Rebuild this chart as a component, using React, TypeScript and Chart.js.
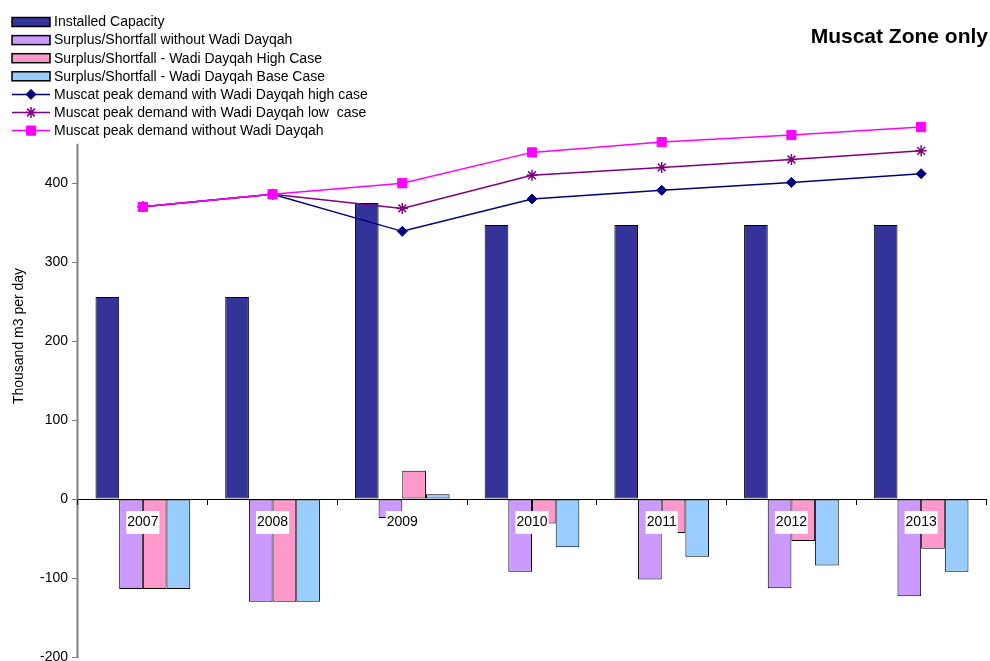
import { useEffect, useRef } from "react";
import { Chart, registerables } from "chart.js";
import { drawPoint } from "chart.js/helpers";

Chart.register(...registerables);

// Years shown along the zero line
const years = ["2007", "2008", "2009", "2010", "2011", "2012", "2013"];

// Bars (thousand m3 per day)
const installedCapacity = [256, 256, 375, 347, 347, 347, 347];
const surplusWithoutWadiDayqah = [-114, -130, -24, -92, -102, -113, -123];
const surplusHighCase = [-114, -130, 36, -31, -43, -53, -63];
const surplusBaseCase = [-114, -130, 6, -61, -73, -84, -92];

// Peak demand lines
const demandHighCase = [370, 386, 339, 380, 391, 401, 412];
const demandLowCase = [370, 386, 368, 410, 420, 430, 441];
const demandWithoutWadiDayqah = [370, 386, 400, 439, 452, 461, 471];

// Value axis: the drawn axis line stops at axisTop, while the plot keeps
// some headroom above it so the demand lines can run past the axis end.
const yTicks = [-200, -100, 0, 100, 200, 300, 400];
const yMin = -200;
const axisTop = 450;
const plotTop = 480;

const chartTitle = "Muscat Zone only";
const yAxisTitle = "Thousand m3 per day";

const FONT = "'Liberation Sans', Arial, sans-serif";

// Vertical legend block, chart title, axis title and the value-axis line
const decorations = {
  id: "decorations",
  beforeDatasetsDraw(chart: any) {
    const ctx: CanvasRenderingContext2D = chart.ctx;
    const y = chart.scales.y;
    const x = chart.chartArea.left;
    ctx.save();
    ctx.strokeStyle = "#808080";
    ctx.lineWidth = 2;
    ctx.beginPath();
    ctx.moveTo(x - 0.5, y.getPixelForValue(axisTop));
    ctx.lineTo(x - 0.5, y.getPixelForValue(yMin) + 1);
    ctx.stroke();
    ctx.restore();
  },
  afterDraw(chart: any) {
    const ctx: CanvasRenderingContext2D = chart.ctx;
    ctx.save();

    // Legend
    const x0 = 12;
    const x1 = 50;
    const textX = 54;
    const rowStart = 22;
    const rowStep = 18.1;
    ctx.font = `14px ${FONT}`;
    ctx.textBaseline = "middle";
    ctx.textAlign = "left";
    chart.data.datasets.forEach((ds: any, i: number) => {
      const y = rowStart + i * rowStep;
      if (ds.type === "bar") {
        ctx.fillStyle = ds.backgroundColor;
        ctx.fillRect(x0, y - 4.5, x1 - x0, 9);
        ctx.strokeStyle = "#000000";
        ctx.lineWidth = 1.5;
        ctx.strokeRect(x0, y - 4.5, x1 - x0, 9);
      } else {
        ctx.strokeStyle = ds.borderColor;
        ctx.lineWidth = ds.borderWidth;
        ctx.beginPath();
        ctx.moveTo(x0, y);
        ctx.lineTo(x1, y);
        ctx.stroke();
        ctx.fillStyle = ds.backgroundColor;
        ctx.strokeStyle = ds.borderColor;
        ctx.lineWidth = ds.pointBorderWidth ?? 1;
        drawPoint(
          ctx,
          { pointStyle: ds.pointStyle, radius: ds.pointRadius, rotation: 0, borderWidth: ds.pointBorderWidth ?? 1 } as any,
          (x0 + x1) / 2,
          y
        );
      }
      ctx.fillStyle = "#000000";
      ctx.fillText(ds.label, textX, y + 0.5);
    });

    // Title
    ctx.font = `bold 21px ${FONT}`;
    ctx.textAlign = "right";
    ctx.textBaseline = "alphabetic";
    ctx.fillStyle = "#000000";
    ctx.fillText(chartTitle, 988, 43);

    // Value axis title
    ctx.font = `14px ${FONT}`;
    ctx.translate(19, 336);
    ctx.rotate(-Math.PI / 2);
    ctx.textAlign = "center";
    ctx.textBaseline = "middle";
    ctx.fillText(yAxisTitle, 0, 0);

    ctx.restore();
  },
};

export default function App() {
  const canvasRef = useRef<HTMLCanvasElement | null>(null);

  useEffect(() => {
    if (!canvasRef.current) return;
    const barBase = {
      type: "bar" as const,
      borderColor: "#000000",
      borderWidth: 1,
      borderSkipped: false,
      order: 10,
    };
    const lineBase = {
      type: "line" as const,
      borderWidth: 1.5,
      fill: false,
      tension: 0,
      clip: false,
    };
    const chart = new Chart(canvasRef.current, {
      type: "bar",
      data: {
        labels: years,
        datasets: [
          { ...barBase, label: "Installed Capacity", data: installedCapacity, backgroundColor: "#333399" },
          { ...barBase, label: "Surplus/Shortfall without Wadi Dayqah", data: surplusWithoutWadiDayqah, backgroundColor: "#CC99FF" },
          { ...barBase, label: "Surplus/Shortfall - Wadi Dayqah High Case", data: surplusHighCase, backgroundColor: "#FF99CC" },
          { ...barBase, label: "Surplus/Shortfall - Wadi Dayqah Base Case", data: surplusBaseCase, backgroundColor: "#99CCFF" },
          {
            ...lineBase,
            label: "Muscat peak demand with Wadi Dayqah high case",
            data: demandHighCase,
            borderColor: "#000080",
            backgroundColor: "#000080",
            pointStyle: "rectRot",
            pointRadius: 5,
            pointBorderWidth: 1,
            order: 3,
          },
          {
            ...lineBase,
            label: "Muscat peak demand with Wadi Dayqah low  case",
            data: demandLowCase,
            borderColor: "#800080",
            backgroundColor: "#800080",
            pointStyle: "star",
            pointRadius: 5.5,
            pointBorderWidth: 1.5,
            order: 2,
          },
          {
            ...lineBase,
            label: "Muscat peak demand without Wadi Dayqah",
            data: demandWithoutWadiDayqah,
            borderColor: "#FF00FF",
            backgroundColor: "#FF00FF",
            pointStyle: "rect",
            pointRadius: 6.5,
            pointBorderWidth: 1,
            order: 1,
          },
        ] as any,
      },
      options: {
        animation: false,
        responsive: false,
        maintainAspectRatio: false,
        events: [],
        layout: { autoPadding: false, padding: { top: 120, left: 0, right: 4, bottom: 4 } },
        plugins: {
          legend: { display: false },
          tooltip: { enabled: false },
          title: { display: false },
        },
        datasets: {
          bar: { categoryPercentage: 0.73, barPercentage: 1 },
        },
        scales: {
          x: {
            type: "category",
            position: { y: 0 } as any,
            offset: true,
            grid: {
              offset: true,
              drawOnChartArea: false,
              drawTicks: true,
              tickLength: 5,
              color: "#000000",
              z: 1,
            } as any,
            border: { color: "#000000", width: 1, z: 1 } as any,
            ticks: {
              z: 1,
              color: "#000000",
              font: { family: FONT, size: 14 },
              padding: 10,
              maxRotation: 0,
              autoSkip: false,
              showLabelBackdrop: true,
              backdropColor: "#ffffff",
              backdropPadding: { left: 1, right: 1, top: 3, bottom: 3 },
            } as any,
          },
          y: {
            type: "linear",
            min: yMin,
            max: plotTop,
            afterBuildTicks: (scale: any) => {
              scale.ticks = yTicks.map((v) => ({ value: v }));
            },
            afterFit: (scale: any) => {
              scale.width = 78;
              scale.paddingTop = 0;
              scale.paddingBottom = 0;
            },
            grid: {
              drawOnChartArea: false,
              drawTicks: true,
              tickLength: 6,
              color: "#808080",
            },
            border: { display: false },
            ticks: {
              color: "#000000",
              font: { family: FONT, size: 14 },
              padding: 4,
            },
          },
        },
      },
      plugins: [decorations],
    });
    return () => chart.destroy();
  }, []);

  return (
    <div style={{ position: "absolute", left: 0, top: 0, width: 990, height: 661, background: "#ffffff" }}>
      <canvas ref={canvasRef} width={990} height={661} style={{ display: "block" }} />
    </div>
  );
}
